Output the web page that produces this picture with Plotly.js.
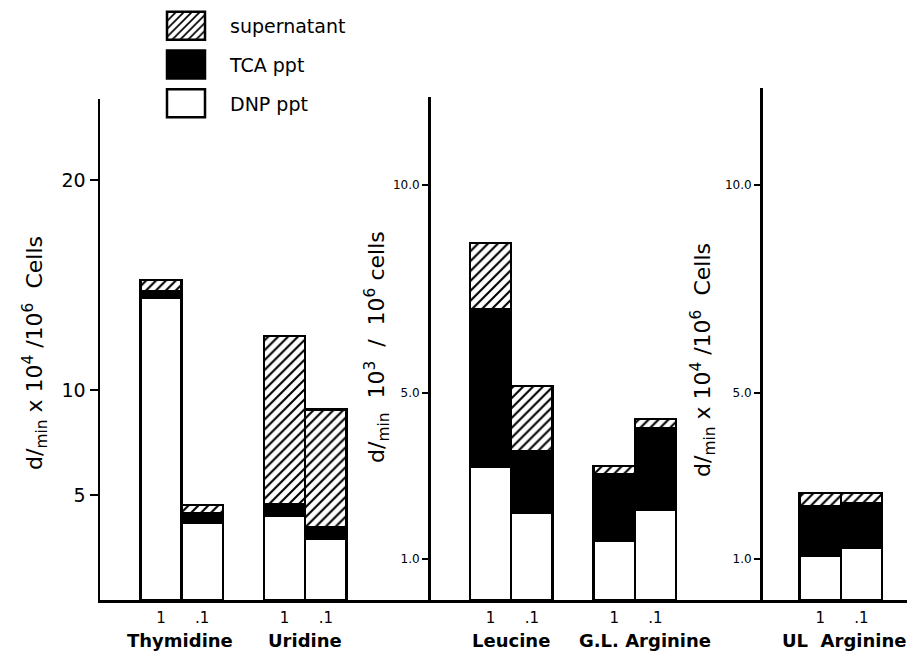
<!DOCTYPE html>
<html>
<head>
<meta charset="utf-8">
<script src="https://cdn.plot.ly/plotly-3.0.1.min.js"></script>
<style>html,body{margin:0;padding:0;background:#fff;}</style>
</head>
<body>
<div id="chart" style="width:917px;height:654px;"></div>
<script>
// ---- data ----
const seriesNames = ["DNP ppt", "TCA ppt", "supernatant"];
const legendRanks = [3, 2, 1];

// Panel 1 (d/min x 10^4 / 10^6 cells)
const panel1Groups = ["Thymidine", "Uridine"];
const panel1Doses = ["1", ".1", "1", ".1"];
const panel1DNP = [14.4, 3.7, 4.0, 2.9];
const panel1TCA = [0.3, 0.45, 0.57, 0.58];
const panel1Sup = [0.55, 0.38, 8.0, 5.6];

// Panel 2 (d/min x 10^3 / 10^6 cells)
const panel2Groups = ["Leucine", "G.L. Arginine"];
const panel2Doses = ["1", ".1", "1", ".1"];
const panel2DNP = [3.2, 2.1, 1.42, 2.17];
const panel2TCA = [3.8, 1.49, 1.62, 1.97];
const panel2Sup = [1.6, 1.57, 0.19, 0.22];

// Panel 3 (d/min x 10^4 / 10^6 cells)
const panel3Groups = ["UL  Arginine"];
const panel3Doses = ["1", ".1"];
const panel3DNP = [1.06, 1.25];
const panel3TCA = [1.21, 1.09];
const panel3Sup = [0.31, 0.24];

// ---- layout helpers (bar slots along the shared x axis) ----
const slots1 = [0, 1, 3, 4];
const slots2 = [8, 9, 11, 12];
const slots3 = [16, 17];

const FONT = "DejaVu Sans, sans-serif";
const LINE = {color: "black", width: 2.5};
const fills = {
  "DNP ppt": {color: "white", line: LINE},
  "TCA ppt": {color: "black", line: LINE},
  "supernatant": {color: "white", line: LINE,
    pattern: {shape: "/", fgcolor: "black", bgcolor: "white", size: 7, solidity: 0.3, fillmode: "replace"}}
};

const panels = [
  {slots: slots1, vals: [panel1DNP, panel1TCA, panel1Sup], yaxis: "y"},
  {slots: slots2, vals: [panel2DNP, panel2TCA, panel2Sup], yaxis: "y2"},
  {slots: slots3, vals: [panel3DNP, panel3TCA, panel3Sup], yaxis: "y3"}
];

const traces = [];
panels.forEach((p, pi) => {
  seriesNames.forEach((name, si) => {
    traces.push({
      type: "bar",
      name: name,
      legendgroup: name,
      legendrank: legendRanks[si],
      showlegend: pi === 0,
      x: p.slots,
      y: p.vals[si],
      yaxis: p.yaxis,
      width: 1.0,
      marker: fills[name],
      hoverinfo: "skip"
    });
  });
});

// geometry of the plot area (pixels)
const W = 917, H = 654;
const L = 100, R = 907, T = 88, B = 600;
const pw = R - L, ph = B - T;
const unit = 41.2, slot0 = 161;
const xr = [(L - slot0) / unit, (R - slot0) / unit];
const px2paperX = px => (px - L) / pw;
const px2paperY = py => (B - py) / ph;

const tickvals = slots1.concat(slots2, slots3);
const ticktext = panel1Doses.concat(panel2Doses, panel3Doses);

const annotations = [];
const groupLabel = (text, x, shift) => annotations.push({
  text: text, x: x, xref: "x", y: px2paperY(640), yref: "paper",
  xanchor: "center", yanchor: "middle", showarrow: false, xshift: shift || 0,
  font: {family: FONT, size: 18, color: "black", weight: "bold"}
});
groupLabel(panel1Groups[0], (slots1[0] + slots1[1]) / 2, -2);
groupLabel(panel1Groups[1], (slots1[2] + slots1[3]) / 2, 0);
groupLabel(panel2Groups[0], (slots2[0] + slots2[1]) / 2, 0);
groupLabel(panel2Groups[1], (slots2[2] + slots2[3]) / 2, 10);
groupLabel(panel3Groups[0], (slots3[0] + slots3[1]) / 2, 4);

const yTitle = (text, cx, cy) => annotations.push({
  text: text, x: px2paperX(cx), xref: "paper", y: px2paperY(cy), yref: "paper",
  xanchor: "center", yanchor: "middle", showarrow: false, textangle: -90,
  font: {family: FONT, size: 22, color: "black"}
});
yTitle("d/<sub>min</sub> x 10<sup>4</sup> /10<sup>6</sup>  Cells", 35, 353);
yTitle("d/<sub>min</sub>  10<sup>3</sup>  /  10<sup>6</sup> cells", 377, 347);
yTitle("d/<sub>min</sub> x 10<sup>4</sup> /10<sup>6</sup>  Cells", 703, 360);

const yBase = {
  showline: true, linecolor: "black", linewidth: 2.5,
  ticks: "outside", tickcolor: "black", tickwidth: 2, showgrid: false, zeroline: false,
  fixedrange: true
};

const layout = {
  width: W, height: H,
  margin: {l: L, r: W - R, t: T, b: H - B, pad: 0, autoexpand: false},
  paper_bgcolor: "white", plot_bgcolor: "rgba(0,0,0,0)",
  barmode: "stack",
  bargap: 0,
  font: {family: FONT, color: "black"},
  showlegend: true,
  legend: {
    xref: "container", yref: "container",
    x: 142 / W, y: 1 - 7 / H, xanchor: "left", yanchor: "top",
    traceorder: "grouped", tracegroupgap: 11,
    itemwidth: 78, bgcolor: "rgba(0,0,0,0)",
    font: {family: FONT, size: 19, color: "black"}
  },
  xaxis: {
    range: xr, showline: true, linecolor: "black", linewidth: 2.5,
    showgrid: false, zeroline: false, ticks: "", tickmode: "array",
    tickvals: tickvals, ticktext: ticktext,
    tickfont: {family: FONT, size: 15, color: "black"},
    ticklabelstandoff: 2, fixedrange: true
  },
  yaxis: Object.assign({}, yBase, {
    domain: [0, (B - 99) / ph], range: [0, (B - 99) / 21],
    tickvals: [5, 10, 20], ticktext: ["5", "10", "20"], ticklen: 8,
    tickfont: {family: FONT, size: 19, color: "black"}
  }),
  yaxis2: Object.assign({}, yBase, {
    domain: [0, (B - 97) / ph], range: [0, (B - 97) / 41.5],
    anchor: "free", position: px2paperX(429), side: "left",
    tickvals: [1, 5, 10], ticktext: ["1.0", "5.0", "10.0"], ticklen: 6,
    tickfont: {family: FONT, size: 12, color: "black"}
  }),
  yaxis3: Object.assign({}, yBase, {
    domain: [0, 1], range: [0, ph / 41.5],
    anchor: "free", position: px2paperX(761), side: "left",
    tickvals: [1, 5, 10], ticktext: ["1.0", "5.0", "10.0"], ticklen: 6,
    tickfont: {family: FONT, size: 12, color: "black"}
  }),
  annotations: annotations
};

Plotly.newPlot("chart", traces, layout, {displayModeBar: false, staticPlot: true}).then(gd => {
  // enlarge the legend swatches to the big boxes of the original key
  document.querySelectorAll("#chart .legend .legendpoints path").forEach(p => {
    p.setAttribute("d", "M19,14H-19V-14H19Z");
    p.style.strokeWidth = "2.5px";
  });
});
</script>
</body>
</html>
